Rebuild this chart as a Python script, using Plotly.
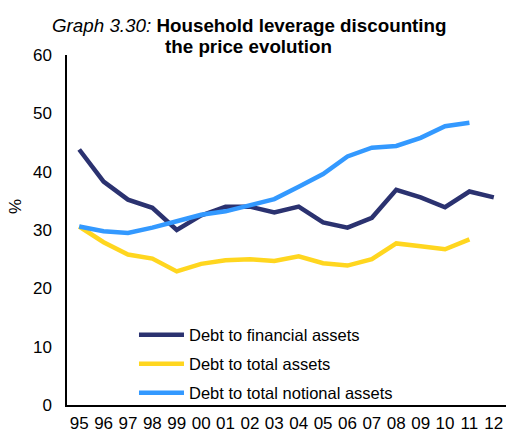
import plotly.graph_objects as go

years = ["95", "96", "97", "98", "99", "00", "01", "02", "03", "04",
         "05", "06", "07", "08", "09", "10", "11", "12"]
debt_financial = [43.8, 38.3, 35.2, 33.8, 30.0, 32.5, 34.0, 34.0, 33.0, 34.0,
                  31.3, 30.4, 32.1, 36.9, 35.6, 33.9, 36.6, 35.6]
debt_total = [30.6, 27.9, 25.8, 25.1, 22.9, 24.2, 24.8, 25.0, 24.7, 25.5,
              24.3, 23.9, 25.0, 27.7, 27.2, 26.7, 28.4, None]
debt_notional = [30.6, 29.8, 29.5, 30.4, 31.5, 32.6, 33.2, 34.2, 35.3, 37.4,
                 39.6, 42.6, 44.1, 44.4, 45.8, 47.8, 48.4, None]

series_names = ["Debt to financial assets", "Debt to total assets",
                "Debt to total notional assets"]
colors = ["#2B3270", "#FFD61F", "#3399FF"]

title_line1 = "<i>Graph 3.30:</i> <b>Household leverage discounting</b>"
title_line2 = "<b>the price evolution</b>"

W, H = 506, 433
ML, MR, MT, MB = 67, 0, 55, 28
PW, PH = W - ML - MR, H - MT - MB


def px_x(x):
    return (x - ML) / PW


def px_y(y):
    return (H - MB - y) / PH


fig = go.Figure()
for i, (name, vals, col) in enumerate(zip(series_names,
                                          [debt_financial, debt_total, debt_notional],
                                          colors)):
    fig.add_trace(go.Scatter(
        x=years, y=vals, mode="lines", name=name, legendgroup=f"g{i}",
        line=dict(color=col, width=4.5), connectgaps=False,
    ))

font_family = "Liberation Sans, Arial, sans-serif"
title_font = dict(family=font_family, size=18.8, color="black")

fig.update_layout(
    width=W, height=H,
    margin=dict(l=ML, r=MR, t=MT, b=MB, autoexpand=False),
    paper_bgcolor="white", plot_bgcolor="white",
    font=dict(family=font_family, size=17, color="black"),
    showlegend=True,
    legend=dict(
        x=0.1526, xanchor="left", y=-0.016, yanchor="bottom",
        bgcolor="rgba(0,0,0,0)", font=dict(family=font_family, size=16.5, color="black"),
        traceorder="grouped", tracegroupgap=4.5, itemwidth=45,
    ),
    annotations=[
        dict(text=title_line1, xref="paper", yref="paper",
             x=px_x(249.5), y=px_y(25), xanchor="center", yanchor="middle",
             showarrow=False, font=title_font),
        dict(text=title_line2, xref="paper", yref="paper",
             x=px_x(248.5), y=px_y(46.5), xanchor="center", yanchor="middle",
             showarrow=False, font=title_font),
        dict(text="%", textangle=-90, xref="paper", yref="paper",
             x=px_x(15), y=px_y(207), xanchor="center", yanchor="middle",
             showarrow=False, font=dict(family=font_family, size=17, color="black")),
    ],
)
fig.update_xaxes(
    type="category", range=[-0.5, 17.5], showline=True, linecolor="black",
    linewidth=2, showgrid=False, ticks="", zeroline=False, automargin=False,
    ticklabelstandoff=2, tickfont=dict(size=17),
)
fig.update_yaxes(
    range=[0, 60], dtick=10, showline=True, linecolor="black", linewidth=1.5,
    showgrid=False, ticks="", zeroline=False, automargin=False,
    ticklabelstandoff=10, tickfont=dict(size=17),
)

fig.write_html(
    "out.html",
    config={"displayModeBar": False},
    post_script="document.body.style.margin='0';document.body.style.overflow='hidden';",
)
